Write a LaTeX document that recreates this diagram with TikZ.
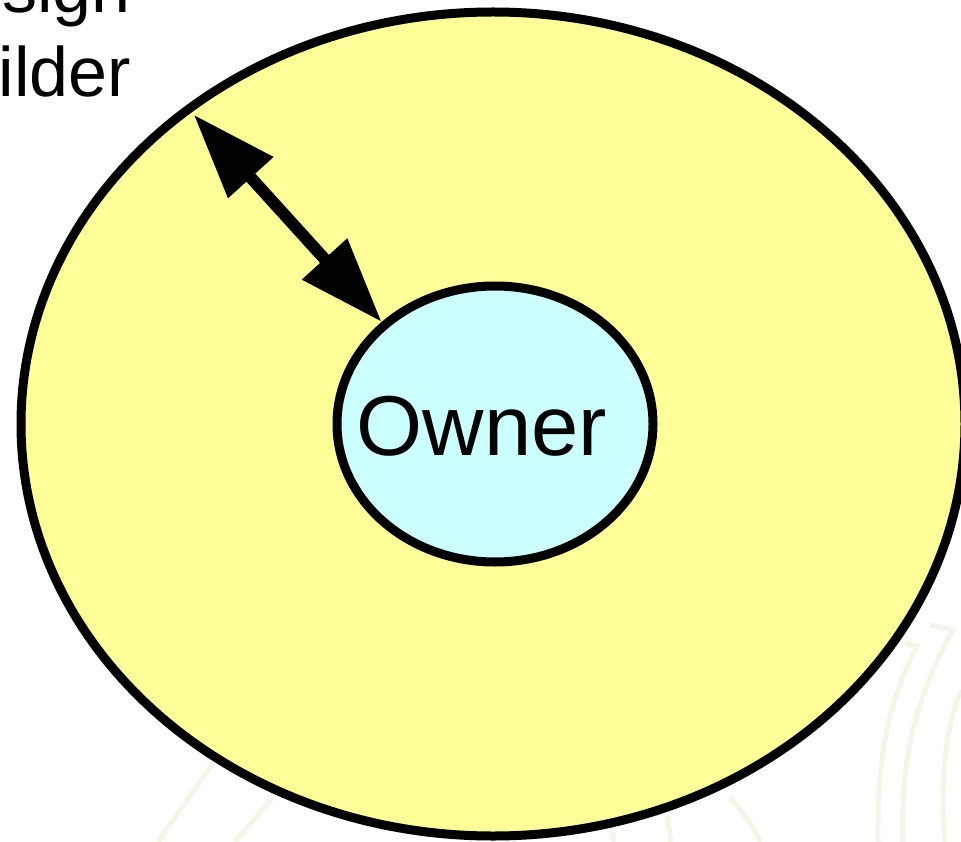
\documentclass[tikz,border=0pt]{standalone}
\usepackage{fontspec}
\setmainfont{Liberation Sans}
\usetikzlibrary{arrows.meta,shapes.geometric}
\definecolor{outerfill}{RGB}{255,255,153}
\definecolor{innerfill}{RGB}{204,255,255}
\definecolor{wmark}{RGB}{243,247,233}
\tikzset{
  bigoval/.style={ellipse, draw=black, line width=9pt, fill=outerfill, inner sep=0pt},
  smalloval/.style={ellipse, draw=black, line width=9pt, fill=innerfill, inner sep=0pt},
  dblarrow/.style={line width=12pt, {Triangle[length=85pt,width=58pt]}-{Triangle[length=85pt,width=58pt]}},
  bigtext/.style={font=\fontsize{70}{84}\selectfont, inner sep=0pt},
  ownertext/.style={font=\fontsize{85}{100}\selectfont, inner sep=0pt},
  wm/.style={draw=wmark, line width=5pt}
}
\begin{document}
\begin{tikzpicture}[x=1pt,y=-1pt]
\useasboundingbox (0,0) rectangle (961,842);
% faint watermark strokes
\draw[wm] (905,643) -- (917,646) .. controls (890,700) and (877,750) .. (878,842);
\draw[wm] (930,625) -- (953,630) .. controls (920,690) and (900,750) .. (903,842);
\draw[wm] (961,690) .. controls (945,730) and (940,780) .. (945,842);
\draw[wm] (213,763) -- (158,842);
\draw[wm] (273,797) -- (235,842);
\draw[wm] (730,797) .. controls (745,815) and (755,830) .. (760,842);
\draw[wm] (667,815) -- (671,842);
\draw[wm] (612,825) -- (614,842);
% shapes
\node[bigoval, minimum width=944pt, minimum height=824pt] (outer) at (493,424) {};
\node[smalloval, minimum width=316pt, minimum height=276pt] (inner) at (495,424) {};
\node[ownertext] (ownerlbl) at (482,426) {Owner};
\node[bigtext, anchor=base east] (design) at (131,13) {Design};
\node[bigtext, anchor=base east] (builder) at (131,97) {Builder};
\draw[dblarrow, shorten <=12pt] (outer.134) -- (inner.138);
\end{tikzpicture}
\end{document}
